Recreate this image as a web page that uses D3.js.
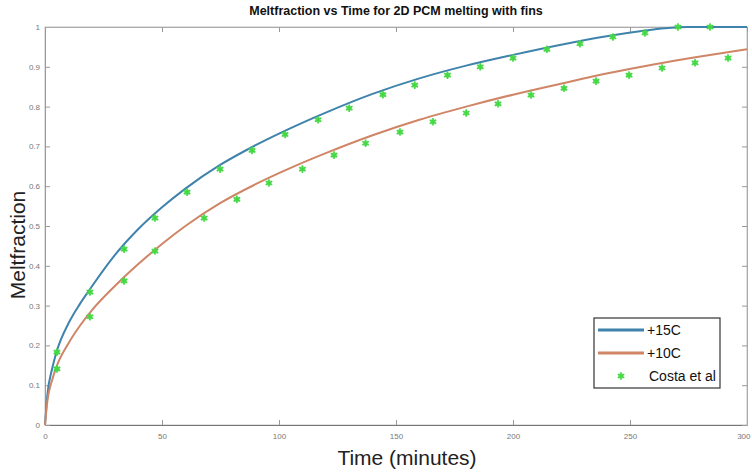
<!DOCTYPE html>
<html>
<head>
<meta charset="utf-8">
<script src="https://cdn.jsdelivr.net/npm/d3@7"></script>
<style>
  body { margin: 0; background: #fff; }
  svg { display: block; font-family: "Liberation Sans", Arial, sans-serif; }
</style>
</head>
<body>
<div id="chart"></div>
<script>
// curve read-offs (time in minutes, meltfraction)
var t15 = [0, 1, 3, 5, 10, 15, 20, 30, 40, 50, 60, 75, 90, 105, 120, 140, 160, 180, 200, 220, 240, 255, 265, 275, 300];
var melt15 = [0, 0.075, 0.14, 0.185, 0.255, 0.305, 0.348, 0.428, 0.493, 0.547, 0.594, 0.654, 0.703, 0.746, 0.785, 0.832, 0.871, 0.903, 0.93, 0.955, 0.977, 0.99, 0.997, 1.0, 1.0];

var t10 = [0, 1, 3, 5, 10, 15, 20, 30, 40, 50, 60, 75, 90, 105, 120, 140, 160, 180, 200, 220, 240, 260, 280, 300];
var melt10 = [0, 0.06, 0.112, 0.148, 0.205, 0.25, 0.288, 0.35, 0.405, 0.455, 0.5, 0.558, 0.605, 0.646, 0.683, 0.728, 0.767, 0.8, 0.83, 0.857, 0.883, 0.906, 0.926, 0.944];

// Costa et al markers
var costaTimeA = [5.1, 19.2, 33.8, 47, 60.7, 74.8, 88.5, 102.6, 116.7, 130, 144.4, 158, 172, 186, 200, 214.5, 228.6, 242.7, 256.4, 270.5, 284.2];
var costaMeltA = [0.183, 0.334, 0.442, 0.52, 0.585, 0.643, 0.69, 0.73, 0.767, 0.796, 0.83, 0.854, 0.879, 0.9, 0.922, 0.944, 0.958, 0.975, 0.985, 1.0, 1.0];
var costaTimeB = [5.1, 19.2, 33.8, 47, 68, 82, 95.7, 110, 123.5, 137, 151.7, 165.8, 180, 193.6, 207.7, 221.8, 235.5, 249.6, 263.7, 277.8, 291.9];
var costaMeltB = [0.141, 0.272, 0.362, 0.437, 0.52, 0.567, 0.608, 0.643, 0.678, 0.708, 0.736, 0.762, 0.784, 0.807, 0.829, 0.846, 0.864, 0.879, 0.897, 0.91, 0.922];

var xTicks = [0, 50, 100, 150, 200, 250, 300];
var yTicks = [0, 0.1, 0.2, 0.3, 0.4, 0.5, 0.6, 0.7, 0.8, 0.9, 1];
var legendNames = ["+15C", "+10C", "Costa et al"];

var W = 752, H = 473;
var margin = {left: 45, right: 5, top: 27, bottom: 48};
var blue = "#3f83ac", orange = "#cf8566", green = "#45d845";

var svg = d3.select("#chart").append("svg")
    .attr("width", W)
    .attr("height", H);

var x = d3.scaleLinear().domain([0, 300]).range([margin.left, W - margin.right]);
var y = d3.scaleLinear().domain([0, 1]).range([H - margin.bottom, margin.top]);

// box + inward ticks, matlab style
svg.append("rect")
    .attr("x", x(0)).attr("y", y(1))
    .attr("width", x(300) - x(0)).attr("height", y(0) - y(1))
    .attr("fill", "none").attr("stroke", "#c4c4c4");

var ax = svg.append("g").attr("transform", "translate(0," + y(0) + ")")
    .call(d3.axisBottom(x).tickValues(xTicks).tickSize(-5).tickPadding(8).tickFormat(d3.format("d")));
var ay = svg.append("g").attr("transform", "translate(" + x(0) + ",0)")
    .call(d3.axisLeft(y).tickValues(yTicks).tickSize(-5).tickPadding(5).tickFormat(function(d) { return d === 0 || d === 1 ? d : d.toFixed(1); }));
svg.append("g").attr("transform", "translate(" + x(300) + ",0)")
    .call(d3.axisRight(y).tickValues(yTicks).tickSize(-5).tickFormat(""));
svg.append("g").attr("transform", "translate(0," + y(1) + ")")
    .call(d3.axisTop(x).tickValues(xTicks).tickSize(-5).tickFormat(""));

svg.selectAll(".domain").attr("stroke", "#aaa");
svg.selectAll(".tick line").attr("stroke", "#999");
ax.select(".domain").attr("stroke", "#777");
ay.select(".domain").attr("stroke", "#999");
svg.selectAll(".tick text").attr("font-size", 8).attr("fill", "#777");
// last x label would run off the edge
ax.selectAll(".tick text").filter(function(d) { return d === 300; }).attr("text-anchor", "end").attr("dx", 3);

// curves
var line = d3.line()
    .x(function(d) { return x(d[0]); })
    .y(function(d) { return y(d[1]); })
    .curve(d3.curveMonotoneX);

svg.append("path")
    .datum(d3.zip(t15, melt15))
    .attr("d", line)
    .attr("fill", "none").attr("stroke", blue).attr("stroke-width", 2);

svg.append("path")
    .datum(d3.zip(t10, melt10))
    .attr("d", line)
    .attr("fill", "none").attr("stroke", orange).attr("stroke-width", 2);

var costa = d3.zip(costaTimeA, costaMeltA).concat(d3.zip(costaTimeB, costaMeltB));
var star = d3.symbol().type(d3.symbolAsterisk).size(40);

var marks = svg.selectAll(".costa").data(costa).enter().append("g")
    .attr("class", "costa")
    .attr("transform", function(d) { return "translate(" + x(d[0]) + "," + y(d[1]) + ")"; });
marks.append("circle").attr("r", 2.8).attr("fill", green).attr("opacity", 0.6);
marks.append("path").attr("d", star).attr("fill", "none").attr("stroke", green).attr("stroke-width", 1.6);

// labels
svg.append("text")
    .attr("x", 396).attr("y", 15)
    .attr("text-anchor", "middle")
    .attr("font-size", 12.5).attr("font-weight", "bold").attr("fill", "#111")
    .text("Meltfraction vs Time for 2D PCM melting with fins");

svg.append("text")
    .attr("x", 407).attr("y", 465)
    .attr("text-anchor", "middle")
    .attr("font-size", 21).attr("fill", "#222")
    .text("Time (minutes)");

svg.append("text")
    .attr("transform", "translate(25,245) rotate(-90)")
    .attr("text-anchor", "middle")
    .attr("font-size", 21).attr("fill", "#222")
    .text("Meltfraction");

// legend
var lg = svg.append("g").attr("transform", "translate(594,318)");
lg.append("rect").attr("width", 126).attr("height", 70)
    .attr("fill", "#fff").attr("stroke", "#333").attr("stroke-width", 1.2);

var rows = lg.selectAll(".row").data(legendNames).enter().append("g")
    .attr("transform", function(d, i) { return "translate(0," + (12 + i * 23) + ")"; });
rows.filter(function(d, i) { return i < 2; }).append("line")
    .attr("x1", 4).attr("x2", 50)
    .attr("stroke", function(d, i) { return i === 0 ? blue : orange; })
    .attr("stroke-width", 3);
var key = rows.filter(function(d, i) { return i === 2; }).append("g")
    .attr("transform", "translate(27,0)");
key.append("circle").attr("r", 2.8).attr("fill", green).attr("opacity", 0.6);
key.append("path").attr("d", star).attr("fill", "none").attr("stroke", green).attr("stroke-width", 1.6);
rows.append("text")
    .attr("x", function(d, i) { return i < 2 ? 53 : 55; })
    .attr("dy", "0.35em")
    .attr("font-size", 14).attr("fill", "#111")
    .text(function(d) { return d; });
</script>
</body>
</html>
